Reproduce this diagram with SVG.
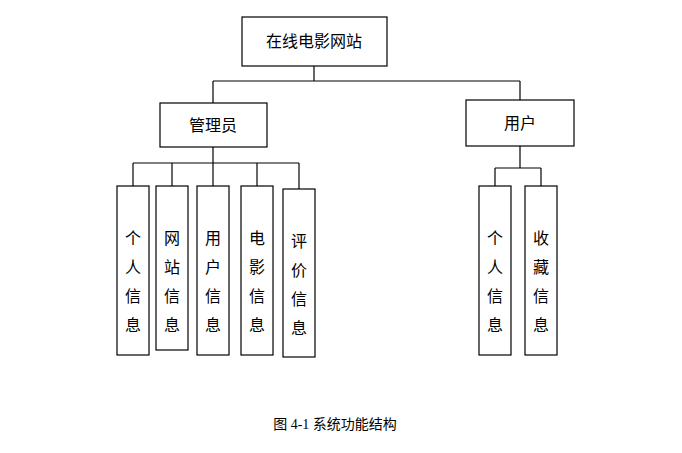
<svg xmlns="http://www.w3.org/2000/svg" width="682" height="453" viewBox="0 0 682 453">
<style>
rect{fill:#fff;stroke:#000;stroke-width:1.2}
.c line{stroke:#000;stroke-width:1.2}
text{font-family:"Noto Sans CJK SC",sans-serif;font-size:16px;text-anchor:middle;fill:#000}
.v text{font-size:16px}
</style>
<rect width="682" height="453" style="stroke:none"/>
<g class="c">
<line x1="314" y1="66" x2="314" y2="81"/>
<line x1="213" y1="81" x2="520" y2="81"/>
<line x1="213" y1="81" x2="213" y2="103"/>
<line x1="520" y1="81" x2="520" y2="100"/>
<line x1="213" y1="147" x2="213" y2="163"/>
<line x1="133" y1="163" x2="299" y2="163"/>
<line x1="133" y1="163" x2="133" y2="186"/>
<line x1="172" y1="163" x2="172" y2="186"/>
<line x1="213" y1="163" x2="213" y2="186"/>
<line x1="257" y1="163" x2="257" y2="186"/>
<line x1="299" y1="163" x2="299" y2="189"/>
<line x1="520" y1="146" x2="520" y2="168"/>
<line x1="495" y1="168" x2="541" y2="168"/>
<line x1="495" y1="168" x2="495" y2="186"/>
<line x1="541" y1="168" x2="541" y2="186"/>
</g>
<g id="root"><rect x="242" y="17" width="145" height="49"/><text x="314" y="47">在线电影网站</text></g>
<g id="admin"><rect x="160" y="103" width="107" height="44"/><text x="213" y="131">管理员</text></g>
<g id="user"><rect x="466" y="100" width="108" height="46"/><text x="520" y="129">用户</text></g>
<g id="a1" class="v"><rect x="117" y="186" width="32" height="169"/><text x="133" y="244">个</text><text x="133" y="273">人</text><text x="133" y="302">信</text><text x="133" y="331">息</text></g>
<g id="a2" class="v"><rect x="156" y="186" width="32" height="164"/><text x="172" y="244">网</text><text x="172" y="273">站</text><text x="172" y="302">信</text><text x="172" y="331">息</text></g>
<g id="a3" class="v"><rect x="197" y="186" width="32" height="169"/><text x="213" y="244">用</text><text x="213" y="273">户</text><text x="213" y="302">信</text><text x="213" y="331">息</text></g>
<g id="a4" class="v"><rect x="241" y="186" width="32" height="169"/><text x="257" y="244">电</text><text x="257" y="273">影</text><text x="257" y="302">信</text><text x="257" y="331">息</text></g>
<g id="a5" class="v"><rect x="283" y="189" width="32" height="168"/><text x="299" y="247">评</text><text x="299" y="276">价</text><text x="299" y="305">信</text><text x="299" y="334">息</text></g>
<g id="u1" class="v"><rect x="479" y="186" width="32" height="169"/><text x="495" y="244">个</text><text x="495" y="273">人</text><text x="495" y="302">信</text><text x="495" y="331">息</text></g>
<g id="u2" class="v"><rect x="525" y="186" width="32" height="169"/><text x="541" y="244">收</text><text x="541" y="273">藏</text><text x="541" y="302">信</text><text x="541" y="331">息</text></g>
<text x="335" y="429" style="font-family:'Liberation Serif','Noto Sans CJK SC',serif;font-size:14px">图 4-1 系统功能结构</text>
</svg>
